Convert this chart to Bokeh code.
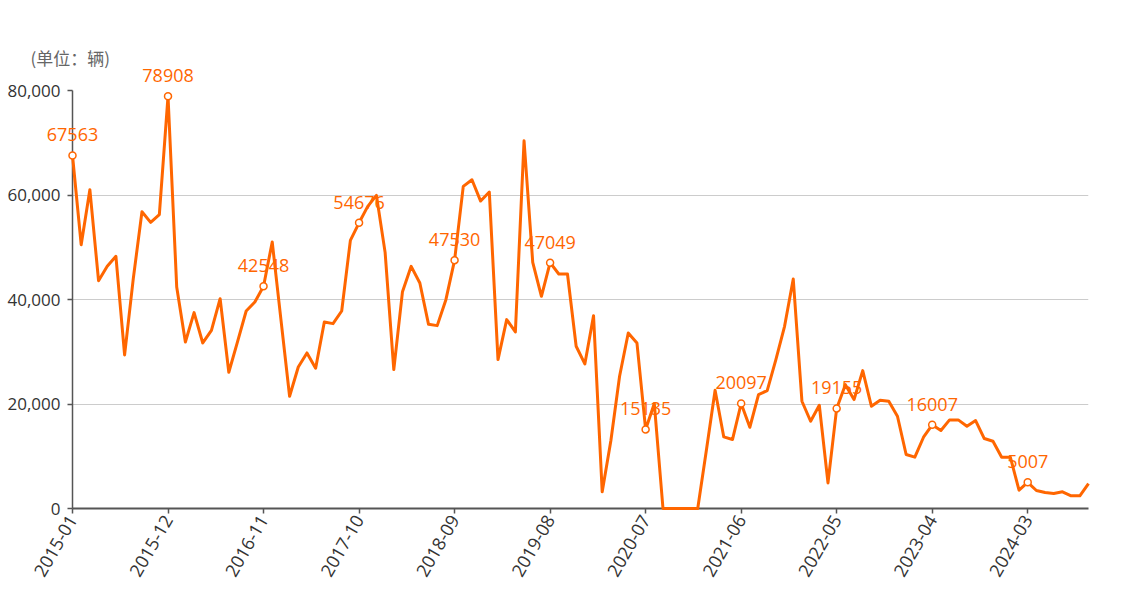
import math
from bokeh.plotting import figure
from bokeh.models import Range1d, FixedTicker, NumeralTickFormatter, ColumnDataSource
from bokeh.embed import file_html
from bokeh.resources import INLINE
from bokeh.core.properties import value

# Monthly sales (units: vehicles), 2015-01 .. 2024-10
months = [f"{2015 + i // 12}-{i % 12 + 1:02d}" for i in range(118)]
sales = [
    67563, 50490, 61010, 43600, 46350, 48260, 29390, 44000, 56800, 54760, 56230, 78908,
    42390, 31875, 37490, 31680, 34100, 40160, 26070, 31900, 37800, 39525, 42548, 51000,
    36200, 21480, 27090, 29770, 26840, 35700, 35380, 37800, 51320, 54676, 57820, 59925,
    49020, 26580, 41500, 46350, 43160, 35250, 35000, 39970, 47530, 61650, 62920, 58840,
    60560, 28500, 36150, 33790, 70380, 47110, 40610, 47049, 44880, 44880, 31050, 27670,
    36910, 3190, 13000, 25300, 33600, 31680, 15135, 20080, 0, 0, 0, 0,
    0, 11200, 22630, 13700, 13200, 20097, 15550, 21800, 22570, 28500, 34870, 43920,
    20530, 16700, 19760, 4900, 19155, 23700, 20850, 26390, 19570, 20720, 20530, 17660,
    10330, 9820, 13640, 16007, 14920, 16960, 16960, 15750, 16830, 13390, 12880, 9820,
    9820, 3500, 5007, 3440, 3060, 2870, 3190, 2420, 2420, 4780,
]
y_ticks = [0, 20000, 40000, 60000, 80000]
unit_title = "(单位：辆)"
label_step = 11

idx = list(range(len(sales)))
mark_idx = idx[::label_step]
mark_vals = [sales[i] for i in mark_idx]
mark_txt = [str(v) for v in mark_vals]

ORANGE = "#ff6600"
FONT = "Open Sans"

p = figure(width=1118, height=584, output_backend="svg", toolbar_location=None,
           x_range=Range1d(0, len(sales) - 1), y_range=Range1d(0, 80000),
           min_border_left=72, min_border_right=30, min_border_top=90, min_border_bottom=75)
p.outline_line_color = None
p.background_fill_color = "white"
p.border_fill_color = "white"

p.title.text = unit_title
p.title.align = "left"
p.title.offset = -42
p.title.standoff = 41
p.title.text_font = "Noto Sans CJK SC"
p.title.text_font_size = "17px"
p.title.text_font_style = "normal"
p.title.text_color = "#666666"

p.xgrid.visible = False
p.ygrid.grid_line_color = "#cccccc"
p.ygrid.grid_line_width = 1
p.ygrid.ticker = FixedTicker(ticks=y_ticks)

p.xaxis.ticker = FixedTicker(ticks=mark_idx)
p.xaxis.major_label_overrides = {i: months[i] for i in mark_idx}
p.xaxis.major_label_orientation = math.pi / 3
p.xaxis.minor_tick_line_color = None
p.yaxis.ticker = FixedTicker(ticks=y_ticks)
p.yaxis.formatter = NumeralTickFormatter(format="0,0")
p.yaxis.minor_tick_line_color = None
for ax in (p.xaxis, p.yaxis):
    ax.axis_line_color = "#555555"
    ax.axis_line_width = 1.5
    ax.major_tick_line_color = "#555555"
    ax.major_tick_line_width = 1.5
    ax.major_tick_out = 5
    ax.major_tick_in = 0
    ax.major_label_text_font = FONT
    ax.major_label_text_font_size = "17px"
    ax.major_label_text_color = "#333333"
p.yaxis.major_label_standoff = 7
p.xaxis.major_label_standoff = 3
p.xaxis.axis_line_width = 2
p.xaxis.major_label_text_font_size = "18px"

src = ColumnDataSource(dict(x=idx, y=sales))
p.line("x", "y", source=src, line_color=ORANGE, line_width=3, line_join="round",
       level="overlay")

msrc = ColumnDataSource(dict(x=mark_idx, y=mark_vals, t=mark_txt))
p.scatter("x", "y", source=msrc, size=7, fill_color="white", line_color=ORANGE, line_width=1.5,
          level="overlay")
p.text("x", "y", text="t", source=msrc, text_font=value(FONT), text_font_size="18px",
       text_color=ORANGE, text_align="center", text_baseline="bottom", y_offset=-14,
       level="overlay")

open("out.html", "w").write(file_html(p, INLINE))
